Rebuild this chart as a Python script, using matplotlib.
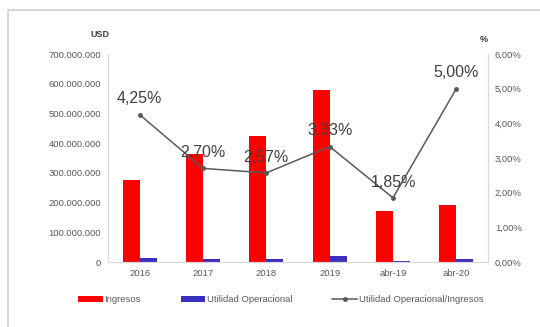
import matplotlib.pyplot as plt
import numpy as np
from matplotlib.patches import Rectangle
from matplotlib.ticker import FuncFormatter

plt.rcParams['font.family'] = ['Liberation Sans', 'DejaVu Sans']

periodos = ["2016", "2017", "2018", "2019", "abr-19", "abr-20"]
ingresos = [277e6, 362e6, 423e6, 578e6, 172e6, 193e6]
utilidad_op = [11.8e6, 9.8e6, 10.9e6, 19.2e6, 3.2e6, 9.7e6]
margen = [4.25, 2.70, 2.57, 3.33, 1.85, 5.00]

RED = "#FF0000"
BLUE = "#3A2FBF"
LINE = "#595959"
TXT = "#595959"
GRID = "#D9D9D9"


def miles(v, _):
    return f"{int(v):,}".replace(",", ".")


def pct(v, _):
    return f"{v:.2f}%".replace(".", ",")


fig = plt.figure(figsize=(5.4, 3.27), dpi=100)
fig.patches.append(Rectangle((8 / 540, -0.1), 1.2, 1.1 - 10 / 327,
                             transform=fig.transFigure, fill=False,
                             edgecolor="#CFCFCF", linewidth=1.2))

ax = fig.add_axes([108 / 540, 65 / 327, 380 / 540, 208 / 327])
x = np.arange(len(periodos))
w = 0.27
ax.bar(x - w / 2, ingresos, w, color=RED, label="Ingresos", zorder=2)
ax.bar(x + w / 2, utilidad_op, w, color=BLUE, label="Utilidad Operacional", zorder=2)
ax.set_xlim(-0.5, 5.5)
ax.set_ylim(0, 700e6)
ax.set_yticks(np.arange(0, 700e6 + 1, 100e6))
ax.yaxis.set_major_formatter(FuncFormatter(miles))
ax.set_xticks(x)
ax.set_xticklabels(periodos)

ax2 = ax.twinx()
ax2.plot(x, margen, color=LINE, linewidth=1.1, marker="o", markersize=2.5,
         label="Utilidad Operacional/Ingresos", zorder=3)
ax2.set_ylim(0, 6)
ax2.set_yticks(np.arange(0, 7, 1))
ax2.yaxis.set_major_formatter(FuncFormatter(pct))
for xi, m in zip(x, margen):
    ax2.annotate(f"{m:.2f}%".replace(".", ","), (xi, m), xytext=(0, 6),
                 textcoords="offset points", ha="center", va="bottom",
                 fontsize=11.5, color="#404040")

for a in (ax, ax2):
    a.spines["top"].set_visible(False)
    for s in ("left", "right", "bottom"):
        a.spines[s].set_color(GRID)
        a.spines[s].set_linewidth(0.8)
    a.tick_params(length=0, labelsize=6.8, colors=TXT, pad=5)

ax.text(-0.02, 1.07, "USD", transform=ax.transAxes, fontsize=6.5,
        fontweight="bold", color="#404040", ha="center", va="bottom")
ax2.text(0.99, 1.05, "%", transform=ax2.transAxes, fontsize=6.5,
         fontweight="bold", color="#404040", ha="center", va="bottom")

h1, l1 = ax.get_legend_handles_labels()
h2, l2 = ax2.get_legend_handles_labels()
leg = fig.legend(h1 + h2, l1 + l2, loc="center", ncol=3,
                 bbox_to_anchor=(0.52, 0.083), frameon=False, fontsize=6.8,
                 handlelength=2.6, handleheight=0.6, columnspacing=4.2,
                 handletextpad=0.2)
for t in leg.get_texts():
    t.set_color(TXT)

fig.savefig("out.png", dpi=100)
